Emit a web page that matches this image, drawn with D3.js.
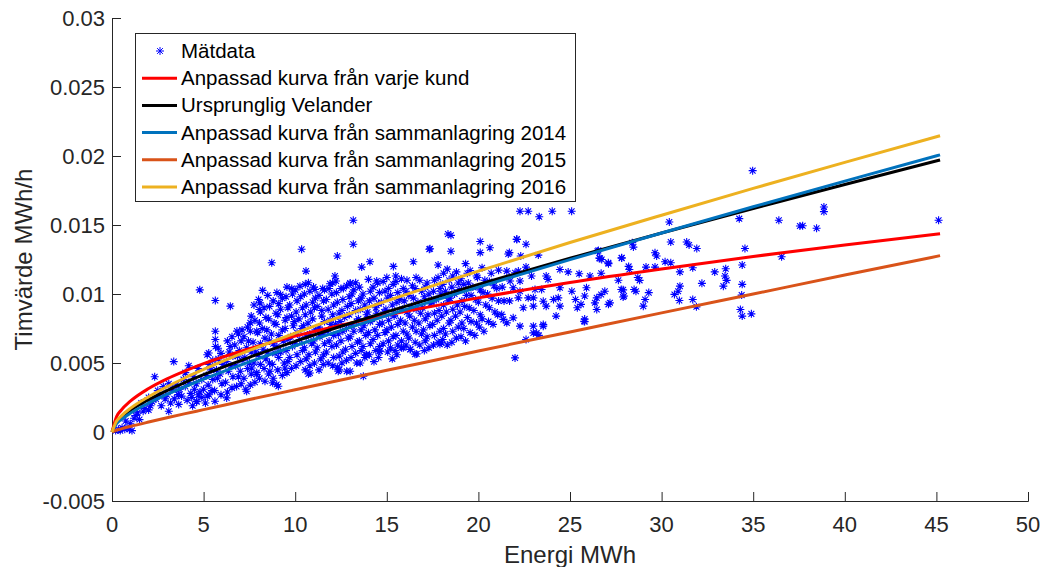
<!DOCTYPE html>
<meta charset="utf-8">
<script src="https://d3js.org/d3.v7.min.js"></script>
<style>
  body { margin: 0; background: #fff; }
  text { font-family: "Liberation Sans", Arial, Helvetica, sans-serif; fill: #262626; }
</style>
<div id="chart"></div>
<script>
// x-values where the fitted curves are read
var curveEnergy = [0, 0.25, 0.5, 1, 2, 3, 4, 5, 7.5, 10, 12.5, 15, 20, 25, 30, 35, 40, 45.2];

var kundCurve = [0, 0.00112, 0.00158, 0.00223, 0.00315, 0.00385, 0.00443, 0.00495, 0.00603, 0.00695, 0.00774, 0.00846, 0.00972, 0.01083, 0.01181, 0.01272, 0.01355, 0.01436];
var velanderCurve = [0, 0.00072, 0.00105, 0.00156, 0.00234, 0.0030, 0.0036, 0.00415, 0.00541, 0.00657, 0.00766, 0.0087, 0.01069, 0.01259, 0.01442, 0.0162, 0.01794, 0.01971];
var curve2014 = [0, 0.00061, 0.0009, 0.00136, 0.00209, 0.00272, 0.00329, 0.00383, 0.00508, 0.00625, 0.00736, 0.00844, 0.0105, 0.01249, 0.01442, 0.01632, 0.01818, 0.02008];
var curve2015 = [0, 0.00014, 0.00023, 0.0004, 0.00072, 0.00103, 0.00133, 0.00162, 0.00235, 0.00306, 0.00377, 0.00447, 0.00587, 0.00725, 0.00863, 0.0100, 0.01137, 0.01278];
var curve2016 = [0, 0.00079, 0.00115, 0.00171, 0.00256, 0.00328, 0.00393, 0.00453, 0.00591, 0.00717, 0.00836, 0.0095, 0.01166, 0.01373, 0.01571, 0.01765, 0.01954, 0.02147];

var seriesNames = ["Mätdata", "Anpassad kurva från varje kund", "Ursprunglig Velander",
  "Anpassad kurva från sammanlagring 2014", "Anpassad kurva från sammanlagring 2015",
  "Anpassad kurva från sammanlagring 2016"];
var seriesColors = ["#0000ff", "#ff0000", "#000000", "#0072bd", "#d95319", "#edb120"];

var xTicks = [0, 5, 10, 15, 20, 25, 30, 35, 40, 45, 50];
var yTicks = [-0.005, 0, 0.005, 0.01, 0.015, 0.02, 0.025, 0.03];
var yTickLabels = ["-0.005", "0", "0.005", "0.01", "0.015", "0.02", "0.025", "0.03"];

// measured points [energy MWh, hourly value MWh/h]
var matdata = [
  [0.2,0.0001],[0.35,0.0002],[0.45,0.0001],[0.55,0.0003],[0.7,0.0002],[0.82,0.0003],[0.95,0.0002],[1.09,0.0001],
  [1.0,0.0006],[0.75,0.0008],[1.2,0.0010],[1.4,0.0014],[1.6,0.0021],[1.8,0.0017],[2.0,0.0025],[2.2,0.0022],
  [2.33,0.0040],[2.5,0.0030],[2.69,0.0019],[2.8,0.0033],[3.0,0.0027],[3.1,0.0015],[3.3,0.0031],[3.37,0.0051],
  [3.62,0.0027],[3.64,0.0020],[3.8,0.0026],[3.9,0.0038],[4.0,0.0033],[4.1,0.0023],[4.19,0.0048],[4.3,0.0028],
  [4.35,0.0025],[4.45,0.0040],[4.6,0.0035],[4.62,0.0022],[4.7,0.0046],[4.79,0.0103],[4.9,0.0025],[5.0,0.0031],
  [4.5,0.0031],[4.8,0.0029],[5.1,0.0021],[5.3,0.0027],[3.5,0.0034],[4.0,0.0043],[2.9,0.0024],[3.2,0.0021],
  [1.3,0.0012],[1.7,0.0015],[2.1,0.0019],[2.4,0.0024],[2.6,0.0027],[3.4,0.0024],[3.7,0.0031],[4.2,0.0036],
  [4.4,0.0019],[4.7,0.0027],[4.9,0.0038],[3.1,0.0035],[2.0,0.0016],[1.5,0.0009],
  [5.64,0.00953],[6.46,0.00912],[5.64,0.0073],[5.64,0.0067],[5.79,0.00607],[5.28,0.00573],[6.82,0.00731],[7.55,0.00791],
  [8.72,0.01226],[10.35,0.01324],[13.17,0.01534],[13.17,0.0136],[12.3,0.01275],[10.59,0.01166],[13.63,0.01195],[14.08,0.01234],
  [17.32,0.01324],[16.45,0.01234],[15.36,0.012],[15.49,0.0113],[18.34,0.01435],[17.8,0.0121],[8.22,0.01026],[9.2,0.00997],
  [8.08,0.00936],[8.04,0.00888],[9.81,0.0104],[10.26,0.01057],[10.72,0.01081],[11.08,0.01033],[12.17,0.0113],[12.23,0.01094],
  [11.9,0.01074],[11.5,0.0104],[12.63,0.0104],[13.0,0.01074],[13.3,0.01081],[14.0,0.01106],[14.45,0.01094],
  [13.72,0.00404],[12.81,0.0044],[12.4,0.0045],[10.8,0.00428],[8.99,0.00344],[8.35,0.00368],[7.35,0.00295],[6.26,0.00247],
  [5.62,0.00223],[4.62,0.00223],[3.62,0.00271],[9.44,0.00464],[13.9,0.0056],[14.63,0.00586],[16.54,0.00564],[15.9,0.0061],
  [17.9,0.00636],[8.77,0.00356],[9.08,0.00332],[8.62,0.0044],[7.9,0.00417],[7.63,0.00464],[10.72,0.0042],[11.53,0.00489],
  [12.35,0.0044],[13.0,0.0044],[13.36,0.005],[13.86,0.00557],[16.63,0.00566],[16.27,0.00598],[15.8,0.0061],
  [14.6,0.00586],[15.45,0.0059],[17.98,0.00646],
  [18.5,0.01425],[18.5,0.0131],[17.36,0.01328],[20.1,0.0138],[20.1,0.013],[20.63,0.01335],[22.1,0.01396],[22.6,0.0136],
  [21.63,0.0129],[22.31,0.01275],[22.6,0.01195],[21.1,0.01173],[22.27,0.016],[22.72,0.016],[23.32,0.0156],[24.03,0.016],
  [25.09,0.016],[22.09,0.01396],[21.69,0.013],[23.27,0.01282],[24.45,0.01178],[24.9,0.0116],[25.5,0.01147],[26.55,0.01316],
  [26.73,0.0125],[27.09,0.01226],[27.82,0.0126],[26.09,0.0113],[26.7,0.0115],[27.64,0.011],[27.9,0.0103],[27.95,0.00985],
  [28.2,0.012],[26.9,0.0102],[26.7,0.00997],[26.46,0.00972],[26.46,0.00888],[27.1,0.00925],[25.8,0.00985],[25.6,0.00925],
  [25.9,0.01045],[25.8,0.00818],[25.1,0.0102],[25.3,0.0096],[25.4,0.009],[24.45,0.01045],[24.36,0.00972],[24.45,0.00912],
  [24.1,0.0096],[23.7,0.00912],[23.8,0.01106],[23.45,0.01033],[23.54,0.00948],[23.09,0.01033],[23.0,0.00972],[23.0,0.00912],
  [24.24,0.0084],[23.54,0.00767],[23.0,0.00767],[23.0,0.00718],[23.3,0.007],[22.6,0.0067],[22.0,0.00537],[25.8,0.008],
  [22.27,0.00767],[21.9,0.00827],[21.55,0.00791],[21.36,0.00816],[21.27,0.00852],[22.45,0.009],[22.18,0.00972],[21.9,0.01045],
  [22.27,0.0102],[22.72,0.00972],[22.27,0.01094],[21.73,0.01094],[21.55,0.01166],[22.0,0.01154],[22.18,0.01166],[22.9,0.0113],
  [21.7,0.0095],[21.4,0.0095],[21.3,0.0105],[23.7,0.0113],[23.18,0.00718],[23.54,0.00779],[25.77,0.00803],[26.36,0.00936],
  [27.18,0.00936],[26.64,0.01258],[27.1,0.0122],[26.5,0.0131],[26.6,0.0126],
  [30.42,0.01522],[34.24,0.01546],[28.4,0.01372],[28.46,0.0134],[30.5,0.01377],[31.37,0.01377],[31.5,0.01355],[31.92,0.0133],
  [34.55,0.0133],[29.64,0.01299],[29.73,0.01275],[30.19,0.01234],[30.5,0.01226],[27.82,0.01263],[29.15,0.01195],[29.64,0.01195],
  [28.24,0.01178],[31.0,0.0116],[31.7,0.0119],[32.9,0.0116],[33.5,0.01183],[33.46,0.0113],[33.55,0.01099],[33.37,0.01057],
  [34.4,0.0121],[34.4,0.0107],[28.7,0.0112],[28.8,0.01099],[32.2,0.01077],[27.8,0.01033],[27.9,0.00978],[28.5,0.01033],
  [28.6,0.0102],[29.3,0.0101],[29.1,0.0096],[29.0,0.00912],[31.0,0.01057],[30.9,0.0102],[30.7,0.00997],[30.97,0.00953],
  [31.7,0.0096],[31.9,0.00907],[34.37,0.00992],[34.3,0.00888],[34.4,0.0084],[34.9,0.00856],[34.97,0.01894],[36.4,0.01534],
  [37.7,0.01495],[38.46,0.01476],[38.86,0.0163],[38.86,0.01597],[45.12,0.01534],[36.55,0.0127],[37.55,0.01493],
  // dense cloud
  [5.2,0.0026],[5.25,0.0034],[5.15,0.0041],[5.3,0.0049],[5.2,0.0056],
  [5.6,0.0030],[5.75,0.0039],[5.7,0.0045],[5.8,0.0053],[5.65,0.0062],
  [6.3,0.0029],[6.2,0.0036],[6.35,0.0044],[6.25,0.0051],[6.4,0.0058],[6.3,0.0066],
  [6.8,0.0033],[6.9,0.0040],[6.75,0.0048],[6.85,0.0055],[6.7,0.0063],[6.9,0.0071],
  [7.3,0.0031],[7.2,0.0039],[7.4,0.0046],[7.25,0.0054],[7.35,0.0061],[7.2,0.0069],[7.4,0.0076],
  [7.8,0.0036],[7.9,0.0043],[7.75,0.0050],[7.85,0.0058],[7.7,0.0065],[7.9,0.0073],[7.8,0.0081],[7.75,0.0092],
  [8.3,0.0046],[8.4,0.0053],[8.25,0.0060],[8.35,0.0068],[8.2,0.0075],[8.4,0.0083],[8.3,0.0090],
  [8.8,0.0039],[8.75,0.0049],[8.9,0.0057],[8.8,0.0064],[8.7,0.0071],[8.85,0.0079],[8.95,0.0086],[8.8,0.0095],
  [9.3,0.0041],[9.4,0.0050],[9.2,0.0058],[9.35,0.0066],[9.3,0.0074],[9.45,0.0081],[9.2,0.0089],[9.3,0.0097],
  [9.8,0.0046],[9.7,0.0054],[9.85,0.0062],[9.75,0.0069],[9.9,0.0077],[9.8,0.0084],[9.7,0.0092],[9.85,0.0100],
  [10.3,0.0051],[10.4,0.0059],[10.25,0.0067],[10.35,0.0075],[10.2,0.0082],[10.4,0.0090],[10.3,0.0098],
  [10.8,0.0048],[10.75,0.0056],[10.9,0.0064],[10.8,0.0071],[10.7,0.0079],[10.85,0.0087],[10.95,0.0094],[10.8,0.0102],
  [11.3,0.0045],[11.4,0.0053],[11.2,0.0061],[11.35,0.0069],[11.3,0.0076],[11.45,0.0084],[11.2,0.0091],[11.3,0.0099],
  [11.8,0.0050],[11.7,0.0058],[11.85,0.0066],[11.75,0.0073],[11.9,0.0081],[11.8,0.0089],[11.7,0.0096],[11.85,0.0104],
  [12.3,0.0047],[12.4,0.0055],[12.25,0.0063],[12.35,0.0071],[12.2,0.0078],[12.4,0.0086],[12.3,0.0094],[12.25,0.0101],
  [12.8,0.0052],[12.75,0.0060],[12.9,0.0068],[12.8,0.0075],[12.7,0.0083],[12.85,0.0091],[12.95,0.0098],[12.8,0.0106],
  [13.3,0.0057],[13.4,0.0065],[13.2,0.0073],[13.35,0.0080],[13.3,0.0088],[13.45,0.0095],[13.2,0.0103],
  [13.8,0.0054],[13.7,0.0062],[13.85,0.0070],[13.75,0.0077],[13.9,0.0085],[13.8,0.0092],[13.7,0.0100],
  [14.3,0.0051],[14.4,0.0059],[14.25,0.0067],[14.35,0.0074],[14.2,0.0082],[14.4,0.0090],[14.3,0.0097],[14.25,0.0105],
  [14.8,0.0064],[14.9,0.0072],[14.75,0.0079],[14.85,0.0087],[14.7,0.0094],[14.9,0.0102],[14.8,0.0109],
  [15.3,0.0053],[15.2,0.0061],[15.35,0.0069],[15.25,0.0076],[15.4,0.0084],[15.3,0.0092],[15.2,0.0099],[15.35,0.0107],
  [15.8,0.0066],[15.9,0.0073],[15.75,0.0081],[15.85,0.0089],[15.7,0.0096],[15.9,0.0104],[15.8,0.0111],
  [16.3,0.0060],[16.2,0.0068],[16.4,0.0076],[16.25,0.0084],[16.35,0.0091],[16.2,0.0099],[16.4,0.0106],
  [16.8,0.0063],[16.9,0.0071],[16.75,0.0079],[16.85,0.0086],[16.7,0.0094],[16.9,0.0102],[16.8,0.0110],
  [17.3,0.0061],[17.2,0.0069],[17.35,0.0077],[17.25,0.0085],[17.4,0.0093],[17.3,0.0100],[17.2,0.0108],
  [17.8,0.0065],[17.9,0.0073],[17.75,0.0081],[17.85,0.0088],[17.7,0.0096],[17.9,0.0104],[17.8,0.0112],
  [18.3,0.0063],[18.2,0.0071],[18.4,0.0079],[18.25,0.0087],[18.35,0.0095],[18.2,0.0102],[18.4,0.0110],[18.3,0.0118],
  [18.8,0.0068],[18.9,0.0076],[18.75,0.0084],[18.85,0.0092],[18.7,0.0100],[18.9,0.0108],[18.8,0.0116],
  [19.3,0.0066],[19.2,0.0075],[19.4,0.0083],[19.25,0.0091],[19.35,0.0099],[19.2,0.0107],[19.4,0.0115],[19.3,0.0122],
  [19.8,0.0070],[19.9,0.0079],[19.75,0.0088],[19.85,0.0096],[19.7,0.0105],[19.9,0.0113],
  [20.3,0.0073],[20.2,0.0082],[20.4,0.0092],[20.25,0.0101],[20.35,0.0110],[20.2,0.0119],
  [20.8,0.0078],[20.9,0.0087],[20.75,0.0097],[20.85,0.0106],[20.7,0.0115],
  // dense cloud, in-between points
  [5.45,0.0030],[5.5,0.0038],[5.4,0.0045],[5.5,0.0052],
  [5.95,0.0027],[6.0,0.0035],[5.9,0.0042],[6.05,0.0049],[5.95,0.0057],
  [6.55,0.0032],[6.6,0.0040],[6.5,0.0048],[6.6,0.0055],[6.45,0.0062],[6.55,0.0069],
  [7.05,0.0035],[7.0,0.0044],[7.1,0.0052],[6.95,0.0059],[7.05,0.0066],[7.1,0.0074],
  [7.55,0.0034],[7.6,0.0042],[7.5,0.0050],[7.6,0.0058],[7.45,0.0066],[7.55,0.0073],[7.6,0.0084],
  [8.05,0.0039],[8.1,0.0049],[8.0,0.0056],[8.1,0.0064],[7.95,0.0072],[8.05,0.0079],[8.1,0.0087],[8.0,0.0096],
  [8.55,0.0042],[8.6,0.0050],[8.5,0.0058],[8.6,0.0066],[8.45,0.0074],[8.55,0.0082],[8.6,0.0091],[8.5,0.0099],
  [9.05,0.0045],[9.1,0.0054],[9.0,0.0062],[9.1,0.0070],[8.95,0.0078],[9.05,0.0085],[9.1,0.0093],[9.0,0.0101],
  [9.55,0.0043],[9.6,0.0051],[9.5,0.0059],[9.6,0.0067],[9.45,0.0075],[9.55,0.0083],[9.6,0.0090],[9.5,0.0098],[9.55,0.0105],
  [10.05,0.0048],[10.1,0.0056],[10.0,0.0064],[10.1,0.0072],[9.95,0.0080],[10.05,0.0087],[10.1,0.0095],[10.0,0.0103],
  [10.55,0.0045],[10.6,0.0053],[10.5,0.0061],[10.6,0.0069],[10.45,0.0077],[10.55,0.0085],[10.6,0.0092],[10.5,0.0100],[10.55,0.0107],
  [11.05,0.0050],[11.1,0.0058],[11.0,0.0066],[11.1,0.0074],[10.95,0.0082],[11.05,0.0090],[11.1,0.0097],[11.0,0.0105],
  [11.55,0.0056],[11.6,0.0064],[11.5,0.0072],[11.6,0.0080],[11.45,0.0088],[11.55,0.0095],[11.6,0.0103],
  [12.05,0.0048],[12.1,0.0054],[12.0,0.0062],[12.1,0.0070],[11.95,0.0078],[12.05,0.0085],[12.1,0.0092],[12.0,0.0100],[12.05,0.0108],
  [12.55,0.0050],[12.6,0.0058],[12.5,0.0066],[12.6,0.0073],[12.45,0.0080],[12.55,0.0088],[12.6,0.0096],[12.5,0.0104],
  [13.05,0.0054],[13.1,0.0062],[13.0,0.0069],[13.1,0.0077],[12.95,0.0085],[13.05,0.0093],[13.1,0.0100],[13.0,0.0108],
  [13.55,0.0050],[13.6,0.0059],[13.5,0.0066],[13.6,0.0074],[13.45,0.0082],[13.55,0.0089],[13.6,0.0097],[13.5,0.0105],
  [14.05,0.0056],[14.1,0.0064],[14.0,0.0072],[14.1,0.0080],[13.95,0.0087],[14.05,0.0095],[14.1,0.0102],
  [14.55,0.0054],[14.6,0.0062],[14.5,0.0070],[14.6,0.0078],[14.45,0.0086],[14.55,0.0093],[14.6,0.0101],[14.5,0.0108],
  [15.05,0.0058],[15.1,0.0066],[15.0,0.0074],[15.1,0.0081],[14.95,0.0089],[15.05,0.0097],[15.1,0.0104],[15.0,0.0112],
  [15.55,0.0056],[15.6,0.0063],[15.5,0.0070],[15.6,0.0078],[15.45,0.0086],[15.55,0.0094],[15.6,0.0101],[15.5,0.0109],
  [16.05,0.0063],[16.1,0.0071],[16.0,0.0079],[16.1,0.0087],[15.95,0.0095],[16.05,0.0102],[16.1,0.0110],
  [16.55,0.0065],[16.6,0.0073],[16.5,0.0081],[16.6,0.0089],[16.45,0.0097],[16.55,0.0104],[16.6,0.0112],
  [17.05,0.0059],[17.1,0.0066],[17.0,0.0074],[17.1,0.0082],[16.95,0.0090],[17.05,0.0098],[17.1,0.0105],
  [17.55,0.0063],[17.6,0.0070],[17.5,0.0078],[17.6,0.0086],[17.45,0.0094],[17.55,0.0102],[17.6,0.0110],
  [18.05,0.0067],[18.1,0.0075],[18.0,0.0084],[18.1,0.0092],[17.95,0.0100],[18.05,0.0107],[18.1,0.0115],
  [18.55,0.0065],[18.6,0.0073],[18.5,0.0081],[18.6,0.0089],[18.45,0.0097],[18.55,0.0105],[18.6,0.0113],
  [19.05,0.0069],[19.1,0.0079],[19.0,0.0087],[19.1,0.0095],[18.95,0.0103],[19.05,0.0111],
  [19.55,0.0072],[19.6,0.0080],[19.5,0.0090],[19.6,0.0099],[19.45,0.0108],[19.55,0.0117],
  [20.05,0.0076],[20.1,0.0085],[20.0,0.0094],[20.1,0.0103],[19.95,0.0112],
  [20.55,0.0080],[20.6,0.0090],[20.5,0.0100],[20.6,0.0109],
  [21.05,0.0085],[21.1,0.0095],[21.0,0.0104]
];

var width = 1041, height = 567;
var plot = { left: 112, right: 1028, top: 18, bottom: 501 };

var svg = d3.select("#chart").append("svg")
  .attr("width", width)
  .attr("height", height);

var x = d3.scaleLinear().domain([0, 50]).range([plot.left, plot.right]);
var y = d3.scaleLinear().domain([-0.005, 0.03]).range([plot.bottom, plot.top]);

// axes (MATLAB style: ticks point inward, no box)
var xAxis = svg.append("g")
  .attr("transform", "translate(0," + plot.bottom + ")")
  .call(d3.axisTop(x).tickValues(xTicks).tickSize(9).tickFormat(""));
xAxis.selectAll("line, path").attr("stroke", "#262626");

svg.selectAll(".xlab")
  .data(xTicks)
  .enter().append("text")
  .attr("x", function(d) { return x(d); })
  .attr("y", plot.bottom + 31)
  .attr("text-anchor", "middle")
  .attr("font-size", "22px")
  .text(function(d) { return d; });

var yAxis = svg.append("g")
  .attr("transform", "translate(" + plot.left + ",0)")
  .call(d3.axisRight(y).tickValues(yTicks).tickSize(9).tickFormat(""));
yAxis.selectAll("line, path").attr("stroke", "#262626");

svg.selectAll(".ylab")
  .data(yTicks)
  .enter().append("text")
  .attr("x", plot.left - 7)
  .attr("y", function(d) { return y(d) + 8; })
  .attr("text-anchor", "end")
  .attr("font-size", "22px")
  .text(function(d, i) { return yTickLabels[i]; });

svg.append("text")
  .attr("x", (plot.left + plot.right) / 2)
  .attr("y", 563)
  .attr("text-anchor", "middle")
  .attr("font-size", "24px")
  .text("Energi MWh");

svg.append("text")
  .attr("transform", "translate(32," + (plot.top + plot.bottom) / 2 + ") rotate(-90)")
  .attr("text-anchor", "middle")
  .attr("font-size", "24px")
  .text("Timvärde MWh/h");

// star marker
var star = "M-4,0H4M0,-4V4M-2.9,-2.9L2.9,2.9M-2.9,2.9L2.9,-2.9";

svg.append("g").selectAll("path")
  .data(matdata)
  .enter().append("path")
  .attr("d", star)
  .attr("transform", function(d) { return "translate(" + x(d[0]) + "," + y(d[1]) + ")"; })
  .attr("stroke", seriesColors[0])
  .attr("stroke-width", 1.1)
  .attr("fill", "none");

var curves = [kundCurve, velanderCurve, curve2014, curve2015, curve2016];

var line = d3.line()
  .x(function(d, i) { return x(curveEnergy[i]); })
  .y(function(d) { return y(d); })
  .curve(d3.curveMonotoneX);

svg.append("g").selectAll("path")
  .data(curves)
  .enter().append("path")
  .attr("d", line)
  .attr("fill", "none")
  .attr("stroke", function(d, i) { return seriesColors[i + 1]; })
  .attr("stroke-width", 3);

// legend
var legend = svg.append("g");
legend.append("rect")
  .attr("x", 135.5).attr("y", 33.5)
  .attr("width", 440).attr("height", 168)
  .attr("fill", "#fff")
  .attr("stroke", "#262626")
  .attr("stroke-width", 1);

var rowY = d3.scalePoint().domain(d3.range(6)).range([51, 187]);

var rows = legend.selectAll(".row")
  .data(seriesNames)
  .enter().append("g")
  .attr("transform", function(d, i) { return "translate(0," + rowY(i) + ")"; });

rows.each(function(d, i) {
  var g = d3.select(this);
  if (i === 0) {
    g.append("path").attr("d", star).attr("transform", "translate(160,0)")
      .attr("stroke", seriesColors[0]).attr("fill", "none");
  } else {
    g.append("line").attr("x1", 142).attr("x2", 177)
      .attr("stroke", seriesColors[i]).attr("stroke-width", 3);
  }
  g.append("text")
    .attr("x", 181)
    .attr("y", 7)
    .attr("font-size", "20.5px")
    .style("fill", "#000")
    .text(d);
});
</script>
